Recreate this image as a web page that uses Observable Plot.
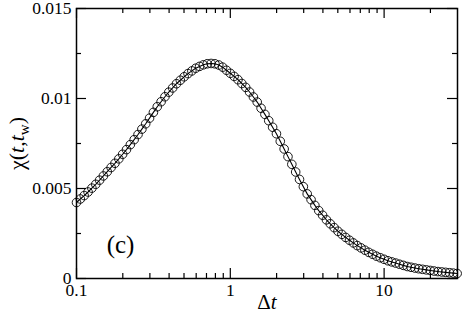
<!DOCTYPE html>
<html>
<head>
<meta charset="utf-8">
<script src="https://cdn.jsdelivr.net/npm/d3@7"></script>
<script src="https://cdn.jsdelivr.net/npm/@observablehq/plot@0.6"></script>
<style>
  html, body { margin: 0; padding: 0; background: #fff; }
</style>
</head>
<body>
<div id="chart"></div>
<script>
// Δt values (log-spaced samples)
const dt = [
  0.1, 0.1059, 0.1122, 0.1189, 0.1259, 0.1334, 0.1413, 0.1496, 0.1585, 0.1679,
  0.1778, 0.1884, 0.1995, 0.2113, 0.2239, 0.2371, 0.2512, 0.2661, 0.2818, 0.2985,
  0.3162, 0.3350, 0.3548, 0.3758, 0.3981, 0.4217, 0.4467, 0.4732, 0.5012, 0.5309,
  0.5623, 0.5957, 0.6310, 0.6683, 0.7079, 0.7499, 0.7943, 0.8414, 0.8913, 0.9441,
  1, 1.059, 1.122, 1.189, 1.259, 1.334, 1.413, 1.496, 1.585, 1.679,
  1.778, 1.884, 1.995, 2.113, 2.239, 2.371, 2.512, 2.661, 2.818, 2.985,
  3.162, 3.350, 3.548, 3.758, 3.981, 4.217, 4.467, 4.732, 5.012, 5.309,
  5.623, 5.957, 6.310, 6.683, 7.079, 7.499, 7.943, 8.414, 8.913, 9.441,
  10, 10.59, 11.22, 11.89, 12.59, 13.34, 14.13, 14.96, 15.85, 16.79,
  17.78, 18.84, 19.95, 21.13, 22.39, 23.71, 25.12, 26.61, 28.18, 29.85
];
// χ(t, t_w) values
const chi = [
  0.004222, 0.004417, 0.004606, 0.004806, 0.005019, 0.005233, 0.005463, 0.005697, 0.005932, 0.006167,
  0.006400, 0.006647, 0.006903, 0.007159, 0.007436, 0.007713, 0.007998, 0.008297, 0.008595, 0.008909,
  0.009229, 0.009543, 0.009820, 0.010097, 0.010351, 0.010585, 0.010820, 0.011014, 0.011206, 0.011383,
  0.011533, 0.011682, 0.011784, 0.011870, 0.011931, 0.011947, 0.011928, 0.011861, 0.011741, 0.011571,
  0.011400, 0.011229, 0.011046, 0.010833, 0.010619, 0.010361, 0.010084, 0.009801, 0.009460, 0.009119,
  0.008767, 0.008405, 0.008042, 0.007623, 0.007197, 0.006771, 0.006344, 0.005918, 0.005506, 0.005101,
  0.004701, 0.004381, 0.004061, 0.003772, 0.003516, 0.003259, 0.003040, 0.002827, 0.002624, 0.002454,
  0.002283, 0.002127, 0.001977, 0.001829, 0.001701, 0.001573, 0.001454, 0.001347, 0.001241, 0.001152,
  0.001067, 0.000986, 0.000922, 0.000858, 0.000794, 0.000730, 0.000666, 0.000624, 0.000581, 0.000543,
  0.000511, 0.000479, 0.000447, 0.000415, 0.000385, 0.000363, 0.000342, 0.000321, 0.000299, 0.000278
];
const xMajorTicks = [0.1, 1, 10];
const xMinorTicks = [0.2, 0.3, 0.4, 0.5, 0.6, 0.7, 0.8, 0.9, 2, 3, 4, 5, 6, 7, 8, 9, 20];
const yMajorTicks = [0, 0.005, 0.01, 0.015];
const yMinorTicks = [0.0025, 0.0075, 0.0125];
const xDomain = [0.1, 30];
const yDomain = [0, 0.015];
const panelLabel = "(c)";
const xLabel = "Δt";
const yLabel = "χ(t,tw)";

const data = dt.map((x, i) => ({x, y: chi[i]}));

const W = 463, H = 320;
const mL = 76, mR = 6, mT = 8, mB = 42;
const fw = W - mL - mR, fh = H - mT - mB;
const major = 10, minor = 5;
const serif = "'Times New Roman', Times, Tinos, 'Liberation Serif', 'Noto Serif', 'DejaVu Serif', FreeSerif, 'Nimbus Roman', 'Nimbus Roman No9 L', serif";

const plot = Plot.plot({
  width: W, height: H,
  marginLeft: mL, marginRight: mR, marginTop: mT, marginBottom: mB,
  style: {fontSize: "17.5px", color: "black", background: "white"},
  x: {type: "log", domain: xDomain},
  y: {domain: yDomain},
  marks: [
    Plot.axisX(xMajorTicks, {tickSize: 0, tickPadding: 5, tickFormat: d => String(d), label: null, fontSize: 17.5}),
    Plot.axisY(yMajorTicks, {tickSize: 0, tickPadding: 5, tickFormat: d => String(d), label: null, fontSize: 17.5}),
    // inward ticks, bottom & top
    Plot.tickX(xMajorTicks, {x: d => d, insetTop: fh - major, stroke: "black", strokeWidth: 1.2}),
    Plot.tickX(xMajorTicks, {x: d => d, insetBottom: fh - major, stroke: "black", strokeWidth: 1.2}),
    Plot.tickX(xMinorTicks, {x: d => d, insetTop: fh - minor, stroke: "black", strokeWidth: 1.2}),
    Plot.tickX(xMinorTicks, {x: d => d, insetBottom: fh - minor, stroke: "black", strokeWidth: 1.2}),
    // inward ticks, left & right
    Plot.tickY(yMajorTicks, {y: d => d, insetRight: fw - major, stroke: "black", strokeWidth: 1.2}),
    Plot.tickY(yMajorTicks, {y: d => d, insetLeft: fw - major, stroke: "black", strokeWidth: 1.2}),
    Plot.tickY(yMinorTicks, {y: d => d, insetRight: fw - minor, stroke: "black", strokeWidth: 1.2}),
    Plot.tickY(yMinorTicks, {y: d => d, insetLeft: fw - minor, stroke: "black", strokeWidth: 1.2}),
    Plot.frame({stroke: "black", strokeWidth: 1.5}),
    Plot.line(data, {x: "x", y: "y", stroke: "black", strokeWidth: 1.1}),
    Plot.dot(data, {x: "x", y: "y", r: 4.3, stroke: "black", strokeWidth: 0.9, fill: "none"}),
    Plot.text([panelLabel], {text: d => d, frameAnchor: "bottom-left", dx: 44, dy: -34, textAnchor: "middle", lineAnchor: "middle", fontSize: 25, fill: "black"}),
    Plot.text([xLabel], {text: d => d, frameAnchor: "bottom", dy: 24, textAnchor: "middle", lineAnchor: "middle", fontSize: 21, fill: "black"}),
    Plot.text([yLabel], {text: d => d, frameAnchor: "left", dx: -60, rotate: -90, textAnchor: "middle", lineAnchor: "middle", fontSize: 22, fill: "black"})
  ]
});

document.getElementById("chart").appendChild(plot);

// serif font everywhere; rich text for axis labels (italic t, subscript w)
const svg = d3.select(plot);
svg.style("font-family", serif);
svg.selectAll("g").style("font-family", serif);
svg.selectAll("text").each(function () {
  const t = d3.select(this);
  t.style("font-family", serif);
  const s = this.textContent;
  if (s === xLabel) {
    t.text(null);
    t.append("tspan").text("Δ");
    t.append("tspan").style("font-style", "italic").text("t");
  } else if (s === yLabel) {
    t.text(null);
    t.append("tspan").text("χ(");
    t.append("tspan").style("font-style", "italic").text("t");
    t.append("tspan").text(",");
    t.append("tspan").style("font-style", "italic").text("t");
    t.append("tspan").attr("font-size", "15").attr("dy", "5").text("w");
    t.append("tspan").attr("dy", "-5").text(")");
  }
});
</script>
</body>
</html>
